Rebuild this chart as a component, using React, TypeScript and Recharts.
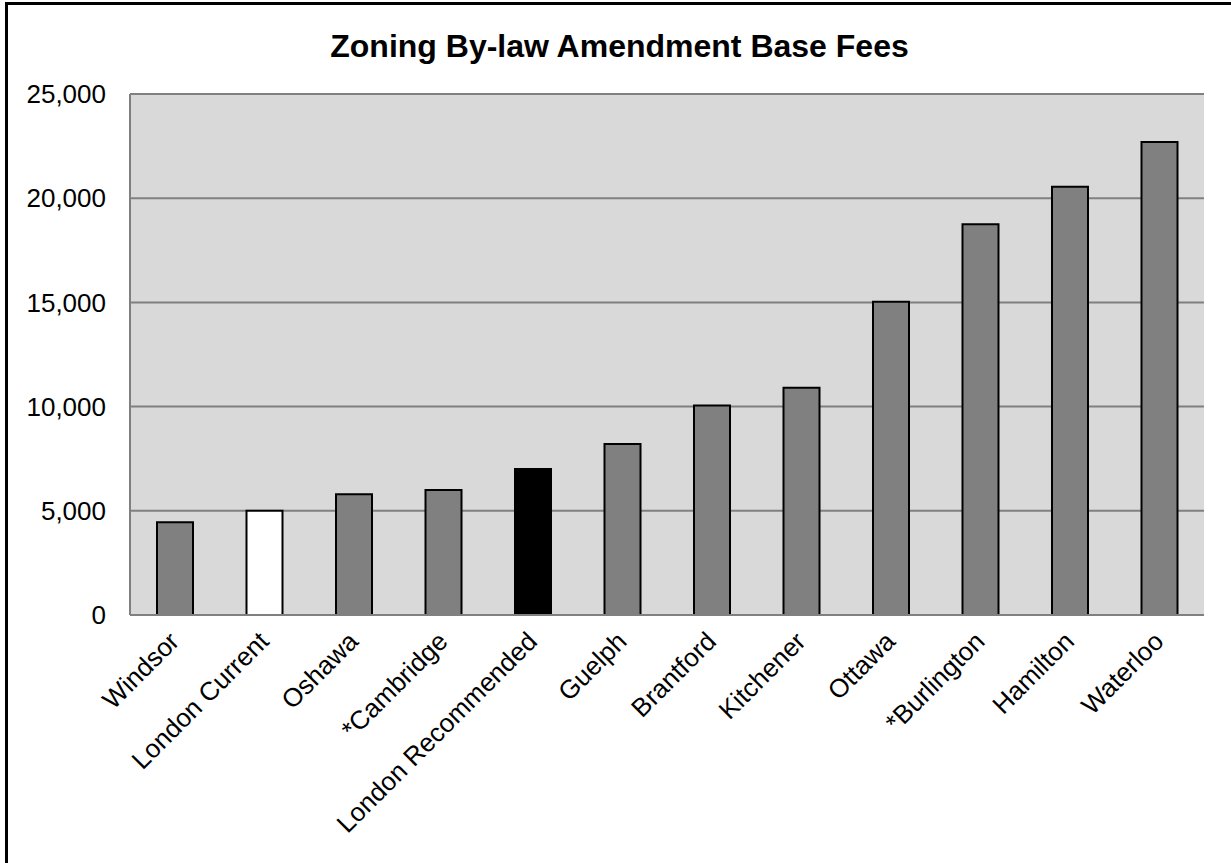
import React from 'react'
import { Bar, BarChart, CartesianGrid, Cell, XAxis, YAxis } from 'recharts'

const categories = [
  'Windsor',
  'London Current',
  'Oshawa',
  '*Cambridge',
  'London Recommended',
  'Guelph',
  'Brantford',
  'Kitchener',
  'Ottawa',
  '*Burlington',
  'Hamilton',
  'Waterloo',
]
const fees = [4450, 5000, 5800, 6000, 7000, 8200, 10050, 10900, 15030, 18750, 20550, 22700]
const barColors = [
  '#808080', '#ffffff', '#808080', '#808080', '#000000', '#808080',
  '#808080', '#808080', '#808080', '#808080', '#808080', '#808080',
]
const yTicks = [0, 5000, 10000, 15000, 20000, 25000]

const data = categories.map((name, i) => ({ name, fee: fees[i] }))

const font = '"Liberation Sans", Arial, sans-serif'

function AngledTick(props: any) {
  const { x, y, payload } = props
  const tx = x + 6
  const ty = y + 28
  return (
    <text
      x={tx}
      y={ty}
      transform={`rotate(-45, ${tx}, ${ty})`}
      textAnchor="end"
      fontSize={26}
      fontFamily={font}
      fill="#000"
    >
      {payload.value}
    </text>
  )
}

export default function App() {
  return (
    <div style={{ position: 'absolute', left: 0, top: 0, width: 1231, height: 863, overflow: 'hidden', background: '#fff' }}>
      <div
        style={{
          position: 'absolute',
          left: 5,
          top: 2,
          width: 1400,
          height: 1000,
          border: '3px solid #000',
        }}
      />
      <div
        style={{
          position: 'absolute',
          left: 0,
          top: 28,
          width: 1239,
          textAlign: 'center',
          fontFamily: font,
          fontWeight: 'bold',
          fontSize: 32,
          lineHeight: '36px',
        }}
      >
        Zoning By-law Amendment Base Fees
      </div>
      <div style={{ position: 'absolute', left: 0, top: 0 }}>
        <BarChart width={1231} height={863} data={data} margin={{ top: 94, right: 27, left: 0, bottom: 0 }}>
          <CartesianGrid fill="#d9d9d9" vertical={false} stroke="#808080" strokeWidth={2} />
          <XAxis
            dataKey="name"
            interval={0}
            height={248}
            tickLine={false}
            tickSize={0}
            tickMargin={0}
            axisLine={{ stroke: '#808080', strokeWidth: 2 }}
            tick={<AngledTick />}
          />
          <XAxis xAxisId="top" orientation="top" dataKey="name" height={0} tick={false} tickLine={false} axisLine={{ stroke: '#000', strokeWidth: 2 }} />
          <YAxis
            domain={[0, 25000]}
            ticks={yTicks}
            width={130}
            tickLine={false}
            tickSize={0}
            tickMargin={24}
            axisLine={{ stroke: '#808080', strokeWidth: 2 }}
            tick={{ fontSize: 26, fontFamily: font, fill: '#000' }}
            tickFormatter={(v: number) => v.toLocaleString('en-US')}
          />
          <YAxis yAxisId="right" orientation="right" width={0} domain={[0, 25000]} tick={false} tickLine={false} axisLine={{ stroke: '#000', strokeWidth: 2 }} />
          <Bar dataKey="fee" barSize={36} stroke="#000" strokeWidth={2} isAnimationActive={false}>
            {data.map((d, i) => (
              <Cell key={d.name} fill={barColors[i]} />
            ))}
          </Bar>
        </BarChart>
      </div>
    </div>
  )
}
